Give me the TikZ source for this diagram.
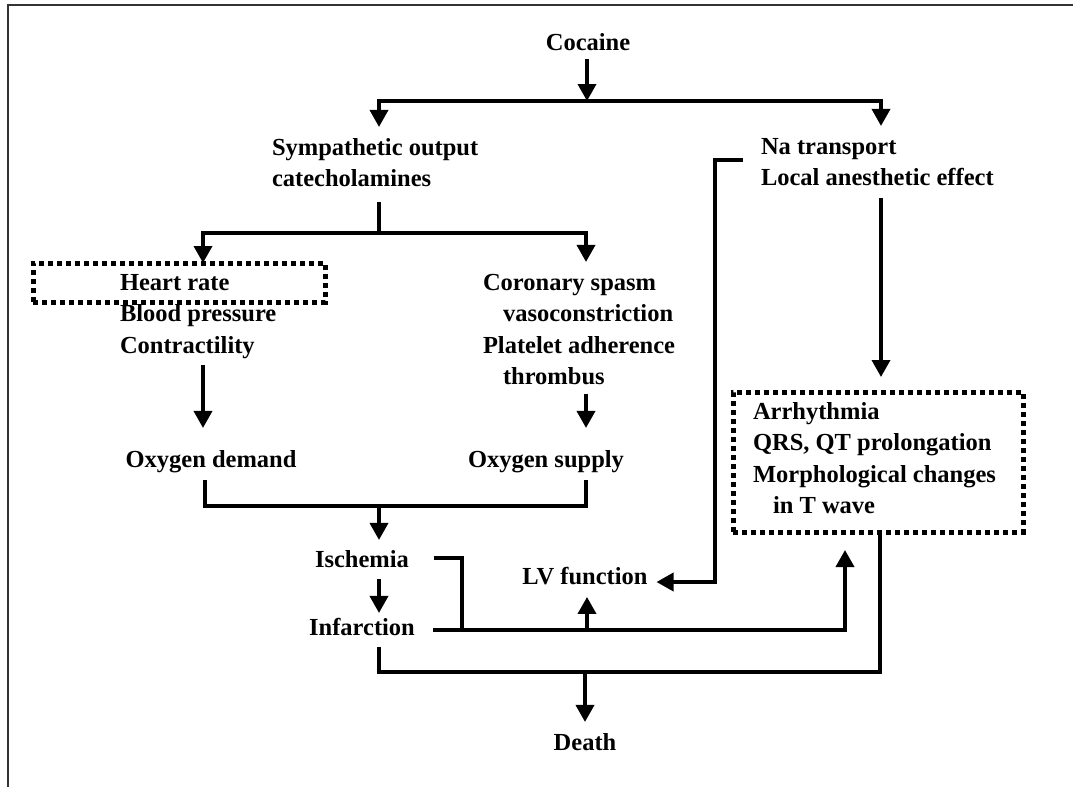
\documentclass[tikz,border=0pt]{standalone}
\usepackage{fontspec}
\setmainfont{Liberation Serif}
\usetikzlibrary{arrows.meta}
\newcommand{\lines}[1]{\begin{tabular}[t]{@{}l@{}}#1\end{tabular}}
\tikzset{
  lbl/.style={font=\fontsize{24.5}{31.5}\selectfont\bfseries, inner sep=0pt, outer sep=0pt, anchor=base},
  lblw/.style={lbl, anchor=base west},
  link/.style={line width=3.6pt},
  arr/.style={link, -{Triangle[width=18pt,length=17pt]}},
  dotbox/.style={draw, line width=5pt, dash pattern=on 5pt off 4pt, inner sep=0pt, outer sep=0pt},
  frame/.style={line width=1.5pt, draw=black!80}
}
\begin{document}
\begin{tikzpicture}[x=1pt,y=-1pt]
\useasboundingbox (0,0) rectangle (1073,787);
\draw[frame] (1073,5) -- (8,5) -- (8,787);

% labels
\node[lbl]  (coc)   at (588,50)  {\lines{Cocaine}};
\node[lblw] (symp)  at (272,155) {\lines{Sympathetic output\\catecholamines}};
\node[lblw] (na)    at (761,154) {\lines{Na transport\\Local anesthetic effect}};
\node[lblw] (hemo)  at (120,290) {\lines{Heart rate\\Blood pressure\\Contractility}};
\node[lblw] (cor)   at (483,290) {\lines{Coronary spasm\\\hspace*{20pt}vasoconstriction\\Platelet adherence\\\hspace*{20pt}thrombus}};
\node[lbl]  (oxd)   at (211,467) {\lines{Oxygen demand}};
\node[lbl]  (oxs)   at (546,467) {\lines{Oxygen supply}};
\node[lbl]  (isc)   at (362,567) {\lines{Ischemia}};
\node[lbl]  (inf)   at (362,635) {\lines{Infarction}};
\node[lbl]  (lv)    at (585,584) {\lines{LV function}};
\node[lblw] (ecg)   at (753,419) {\lines{Arrhythmia\\QRS, QT prolongation\\Morphological changes\\\hspace*{20pt}in T wave}};
\node[lbl]  (death) at (585,750) {\lines{Death}};

% highlighted frames
\node[dotbox, minimum width=292pt, minimum height=39pt]  (hrbox)  at (179,282.5) {};
\node[dotbox, minimum width=290pt, minimum height=140pt] (arrbox) at (878,462) {};

% junction points
\coordinate (cSplit) at (587,101);
\coordinate (cL) at (379,101);
\coordinate (cR) at (881,101);
\coordinate (sSplit) at (379,233);
\coordinate (sL) at (203,233);
\coordinate (sR) at (586,233);
\coordinate (oL) at (205,506);
\coordinate (oR) at (586,506);
\coordinate (oM) at (379,506);
\coordinate (iJoin) at (462,630);
\coordinate (fR) at (845,630);
\coordinate (lvUp) at (587,630);
\coordinate (naBot) at (715,582);
\coordinate (dL) at (379,672);
\coordinate (dR) at (880,672);
\coordinate (dM) at (585,672);

% Cocaine splits
\draw[arr] (cSplit |- coc.south) -- (cSplit);
\draw[link] ([xshift=-1.8pt]cL) -- ([xshift=1.8pt]cR);
\draw[arr] (cL) -- ([yshift=6pt]cL |- symp.north);
\draw[arr] (cR) -- ([yshift=6pt]cR |- na.north);

% sympathetic branch
\draw[link] ([yshift=-6pt]sSplit |- symp.south) -- (sSplit);
\draw[link] ([xshift=-1.8pt]sL) -- ([xshift=1.8pt]sR);
\draw[arr] (sL) -- (sL |- hrbox.north);
\draw[arr] (sR) -- ([yshift=6pt]sR |- cor.north);
\draw[arr] ([yshift=-3pt]sL |- hemo.south) -- ([yshift=17pt]sL |- oxd.north);
\draw[arr] (sR |- cor.south) -- ([yshift=17pt]sR |- oxs.north);

% oxygen balance to ischemia
\draw[link] ([yshift=-4pt]oL |- oxd.south) -- (oL) -- (oR) -- ([yshift=-4pt]oR |- oxs.south);
\draw[arr] (oM) -- ([yshift=5pt]oM |- isc.north);
\draw[arr] ([yshift=-3pt]oM |- isc.south) -- (oM |- inf.north);

% ischemia / infarction outflows
\draw[link] ([xshift=25pt,yshift=3pt]isc.east) -| (iJoin);
\draw[arr] ([xshift=18pt,yshift=-1pt]inf.east) -| ([yshift=-18pt]fR |- arrbox.south);
\draw[arr] (lvUp) -- ([yshift=-3.5pt]lvUp |- lv.south);

% sodium channel effects
\draw[arr] ([xshift=-18pt,yshift=3.5pt]na.west) -| (naBot) -- ([xshift=9pt]lv.east |- naBot);
\draw[arr] ([yshift=-3pt]cR |- na.south) -- ([yshift=15pt]cR |- arrbox.north);

% to death
\draw[link] ([yshift=-3pt]dL |- inf.south) -- (dL) -- (dR) -- (dR |- arrbox.south);
\draw[arr] (dM) -- ([yshift=6pt]death.north);
\end{tikzpicture}
\end{document}
